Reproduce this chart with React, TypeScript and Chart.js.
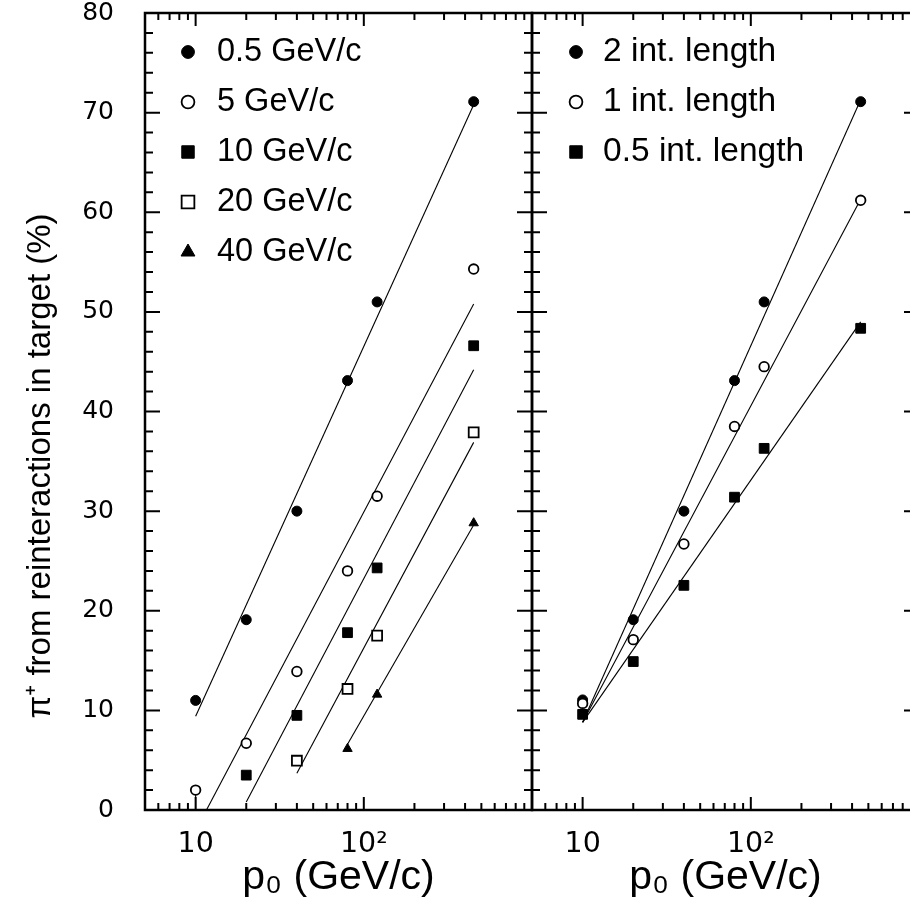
import React, { useEffect, useRef } from 'react';
import { Chart, registerables } from 'chart.js';
import { drawPoint } from 'chart.js/helpers';

Chart.register(...registerables);

// ---------- data ----------
const P0 = [10, 20, 40, 80, 120, 450];

const LEFT_LABELS = ['0.5 GeV/c', '5 GeV/c', '10 GeV/c', '20 GeV/c', '40 GeV/c'];
const PI_05_GEV = [11.0, 19.1, 30.0, 43.1, 51.0, 71.1];
const PI_5_GEV = [2.0, 6.7, 13.9, 24.0, 31.5, 54.3];
const PI_10_GEV = [null, 3.5, 9.5, 17.8, 24.3, 46.6];
const PI_20_GEV = [null, null, 4.95, 12.15, 17.5, 37.9];
const PI_40_GEV = [null, null, null, 6.15, 11.6, 28.8];

const RIGHT_LABELS = ['2 int. length', '1 int. length', '0.5 int. length'];
const PI_2_INT = [11.05, 19.1, 30.0, 43.1, 51.0, 71.1];
const PI_1_INT = [10.7, 17.1, 26.7, 38.5, 44.5, 61.2];
const PI_05_INT = [9.6, 14.9, 22.55, 31.4, 36.3, 48.35];

// fitted lines (two end points each)
const FIT_05_GEV_X = [10, 450];
const FIT_05_GEV_Y = [9.4, 70.8];
const FIT_5_GEV_X = [11.6, 450];
const FIT_5_GEV_Y = [0, 50.8];
const FIT_10_GEV_X = [20, 450];
const FIT_10_GEV_Y = [0.8, 44.2];
const FIT_20_GEV_X = [40, 450];
const FIT_20_GEV_Y = [3.7, 36.9];
const FIT_40_GEV_X = [80, 450];
const FIT_40_GEV_Y = [6.6, 28.6];
const ERR_5_GEV_X = [10, 10];
const ERR_5_GEV_Y = [0, 2.0];

const FIT_2_INT_X = [10, 450];
const FIT_2_INT_Y = [8.8, 71.3];
const FIT_1_INT_X = [10, 450];
const FIT_1_INT_Y = [8.8, 61.3];
const FIT_05_INT_X = [10, 450];
const FIT_05_INT_Y = [8.8, 49.0];

// ---------- axes ----------
const X_MIN = 5;
const X_MAX = 1000;
const Y_MIN = 0;
const Y_MAX = 80;
const X_TICK_VALUES = [10, 100];
const X_TICK_LABELS = ['10', '10²'];
const X_MINOR = [6, 7, 8, 9, 20, 30, 40, 50, 60, 70, 80, 90, 200, 300, 400, 500, 600, 700, 800, 900];
const Y_MAJOR = [10, 20, 30, 40, 50, 60, 70];
const Y_MINOR: number[] = [];
for (let v = 2; v < 80; v += 2) if (v % 10 !== 0) Y_MINOR.push(v);

const X_TITLE = 'p₀ (GeV/c)';
const Y_TITLE = 'π⁺ from reinteractions in target (%)';
const FONT = '"Liberation Sans", Arial, sans-serif';
const TICK_FONT = '"DejaVu Sans", sans-serif';

// ---------- marker styles ----------
const FILLED_CIRCLE = { shape: 'circle', r: 5.0, fill: '#000', bw: 1, lr: 6.4 };
const OPEN_CIRCLE = { shape: 'circle', r: 4.8, fill: '#fff', bw: 1.8, lr: 6.4 };
const FILLED_SQUARE = { shape: 'rect', r: 6.9, fill: '#000', bw: 1, lr: 8.8 };
const OPEN_SQUARE = { shape: 'rect', r: 7.0, fill: '#fff', bw: 1.8, lr: 9.0 };
const FILLED_TRIANGLE = { shape: 'triangle', r: 5.4, fill: '#000', bw: 1, lr: 8.0 };

const pts = (xs: number[], ys: (number | null)[]) =>
  xs.map((x, i) => ({ x, y: ys[i] })).filter((p) => p.y !== null);

const markerDs = (label: string, ys: (number | null)[], st: any, order: number) => ({
  label,
  data: pts(P0, ys),
  showLine: false,
  pointStyle: st.shape,
  pointRadius: st.r,
  pointBackgroundColor: st.fill,
  pointBorderColor: '#000',
  pointBorderWidth: st.bw,
  order,
  markerStyle: st,
});

const lineDs = (xs: number[], ys: number[]) => ({
  label: '',
  data: pts(xs, ys),
  showLine: true,
  borderColor: '#000',
  borderWidth: 1.1,
  pointRadius: 0,
  order: 100,
});

// ---------- plugin: frame, inward ticks, legend, y title ----------
const panelPlugin = {
  id: 'panel',
  afterDatasetsDraw(chart: any, _args: any, opts: any) {
    const { ctx, chartArea: a, scales } = chart;
    const xs = scales.x;
    const ys = scales.y;
    ctx.save();
    ctx.strokeStyle = '#000';
    ctx.lineWidth = 2;
    ctx.beginPath();
    const hx = (v: number, len: number) => {
      const p = xs.getPixelForValue(v);
      ctx.moveTo(p, a.bottom);
      ctx.lineTo(p, a.bottom - len);
      ctx.moveTo(p, a.top);
      ctx.lineTo(p, a.top + len);
    };
    const hy = (v: number, len: number) => {
      const p = ys.getPixelForValue(v);
      ctx.moveTo(a.left, p);
      ctx.lineTo(a.left + len, p);
      ctx.moveTo(a.right, p);
      ctx.lineTo(a.right - len, p);
    };
    X_TICK_VALUES.forEach((v) => hx(v, 13));
    X_MINOR.forEach((v) => hx(v, 7));
    Y_MAJOR.forEach((v) => hy(v, 15));
    Y_MINOR.forEach((v) => hy(v, 8));
    ctx.stroke();
    ctx.lineWidth = 2.5;
    ctx.strokeRect(a.left, a.top, a.right - a.left, a.bottom - a.top);

    // legend
    const lg = opts.legend;
    const items = chart.data.datasets.filter((d: any) => d.markerStyle);
    items.forEach((d: any, i: number) => {
      const st = d.markerStyle;
      const y = a.top + lg.top + i * lg.dy;
      const mx = a.left + lg.markerX;
      ctx.fillStyle = st.fill;
      ctx.strokeStyle = '#000';
      ctx.lineWidth = st.bw;
      drawPoint(ctx, { pointStyle: st.shape, radius: st.lr, rotation: 0, borderWidth: st.bw }, mx, y);
      ctx.fillStyle = '#000';
      ctx.font = `${lg.fontSize}px ${FONT}`;
      ctx.textAlign = 'left';
      ctx.textBaseline = 'middle';
      ctx.fillText(d.label, a.left + lg.textX, y);
    });

    if (opts.yTitle) {
      ctx.save();
      ctx.translate(opts.yTitleX, opts.yTitleY);
      ctx.rotate(-Math.PI / 2);
      ctx.fillStyle = '#000';
      ctx.font = `${opts.yTitleSize}px ${FONT}`;
      ctx.textAlign = 'center';
      ctx.textBaseline = 'alphabetic';
      ctx.fillText(opts.yTitle, 0, 0);
      ctx.restore();
    }
    ctx.restore();
  },
};

const zeroPad = (s: any) => {
  s.paddingLeft = 0;
  s.paddingRight = 0;
  s.paddingTop = 0;
  s.paddingBottom = 0;
};

const makeConfig = (datasets: any[], showY: boolean, padding: any, panelOpts: any): any => ({
  type: 'scatter',
  data: { datasets },
  plugins: [panelPlugin],
  options: {
    responsive: false,
    animation: false,
    devicePixelRatio: 1,
    events: [],
    layout: { padding },
    plugins: {
      legend: { display: false },
      tooltip: { enabled: false },
      panel: panelOpts,
    },
    scales: {
      x: {
        type: 'logarithmic',
        min: X_MIN,
        max: X_MAX,
        grid: { display: false, drawTicks: false },
        border: { display: false },
        afterBuildTicks: (s: any) => {
          s.ticks = X_TICK_VALUES.map((v) => ({ value: v }));
        },
        afterFit: (s: any) => {
          s.height = 95;
          zeroPad(s);
        },
        ticks: {
          autoSkip: false,
          maxRotation: 0,
          padding: 17,
          color: '#000',
          font: { family: TICK_FONT, size: 28.5, lineHeight: 1.2 },
          callback: (v: any) => {
            const i = X_TICK_VALUES.indexOf(Number(v));
            return i >= 0 ? X_TICK_LABELS[i] : '';
          },
        },
        title: {
          display: true,
          text: X_TITLE,
          color: '#000',
          font: { family: FONT, size: 41, lineHeight: 1.2 },
          padding: { top: 0, bottom: 3 },
        },
      },
      y: {
        type: 'linear',
        min: Y_MIN,
        max: Y_MAX,
        display: showY,
        grid: { display: false, drawTicks: false },
        border: { display: false },
        afterFit: (s: any) => {
          s.width = showY ? 145 : 0;
          zeroPad(s);
        },
        ticks: {
          stepSize: 10,
          padding: 31,
          color: '#000',
          font: { family: TICK_FONT, size: 25, lineHeight: 1 },
        },
      },
    },
  },
});

const leftConfig = () =>
  makeConfig(
    [
      markerDs(LEFT_LABELS[0], PI_05_GEV, FILLED_CIRCLE, 5),
      markerDs(LEFT_LABELS[1], PI_5_GEV, OPEN_CIRCLE, 4),
      markerDs(LEFT_LABELS[2], PI_10_GEV, FILLED_SQUARE, 3),
      markerDs(LEFT_LABELS[3], PI_20_GEV, OPEN_SQUARE, 2),
      markerDs(LEFT_LABELS[4], PI_40_GEV, FILLED_TRIANGLE, 1),
      lineDs(FIT_05_GEV_X, FIT_05_GEV_Y),
      lineDs(FIT_5_GEV_X, FIT_5_GEV_Y),
      lineDs(FIT_10_GEV_X, FIT_10_GEV_Y),
      lineDs(FIT_20_GEV_X, FIT_20_GEV_Y),
      lineDs(FIT_40_GEV_X, FIT_40_GEV_Y),
      lineDs(ERR_5_GEV_X, ERR_5_GEV_Y),
    ],
    true,
    { left: 0, top: 13, right: 13, bottom: 0 },
    {
      legend: { top: 39, dy: 50, markerX: 43, textX: 72, fontSize: 32.5 },
      yTitle: Y_TITLE,
      yTitleX: 50,
      yTitleY: 466,
      yTitleSize: 33,
    }
  );

const rightConfig = () =>
  makeConfig(
    [
      markerDs(RIGHT_LABELS[0], PI_2_INT, FILLED_CIRCLE, 3),
      markerDs(RIGHT_LABELS[1], PI_1_INT, OPEN_CIRCLE, 2),
      markerDs(RIGHT_LABELS[2], PI_05_INT, FILLED_SQUARE, 1),
      lineDs(FIT_2_INT_X, FIT_2_INT_Y),
      lineDs(FIT_1_INT_X, FIT_1_INT_Y),
      lineDs(FIT_05_INT_X, FIT_05_INT_Y),
    ],
    false,
    { left: 32, top: 13, right: 16, bottom: 0 },
    {
      legend: { top: 39, dy: 50, markerX: 44, textX: 71, fontSize: 33.5 },
      yTitle: null,
    }
  );

export default function App() {
  const leftRef = useRef<HTMLCanvasElement>(null);
  const rightRef = useRef<HTMLCanvasElement>(null);

  useEffect(() => {
    const c1 = new Chart(leftRef.current as HTMLCanvasElement, leftConfig());
    const c2 = new Chart(rightRef.current as HTMLCanvasElement, rightConfig());
    return () => {
      c1.destroy();
      c2.destroy();
    };
  }, []);

  return (
    <div
      style={{
        position: 'fixed',
        left: 0,
        top: 0,
        width: 910,
        height: 905,
        overflow: 'hidden',
        background: '#fff',
      }}
    >
      <canvas
        ref={leftRef}
        width={545}
        height={905}
        style={{ position: 'absolute', left: 0, top: 0, width: 545, height: 905 }}
      />
      <canvas
        ref={rightRef}
        width={435}
        height={905}
        style={{ position: 'absolute', left: 500, top: 0, width: 435, height: 905 }}
      />
    </div>
  );
}
